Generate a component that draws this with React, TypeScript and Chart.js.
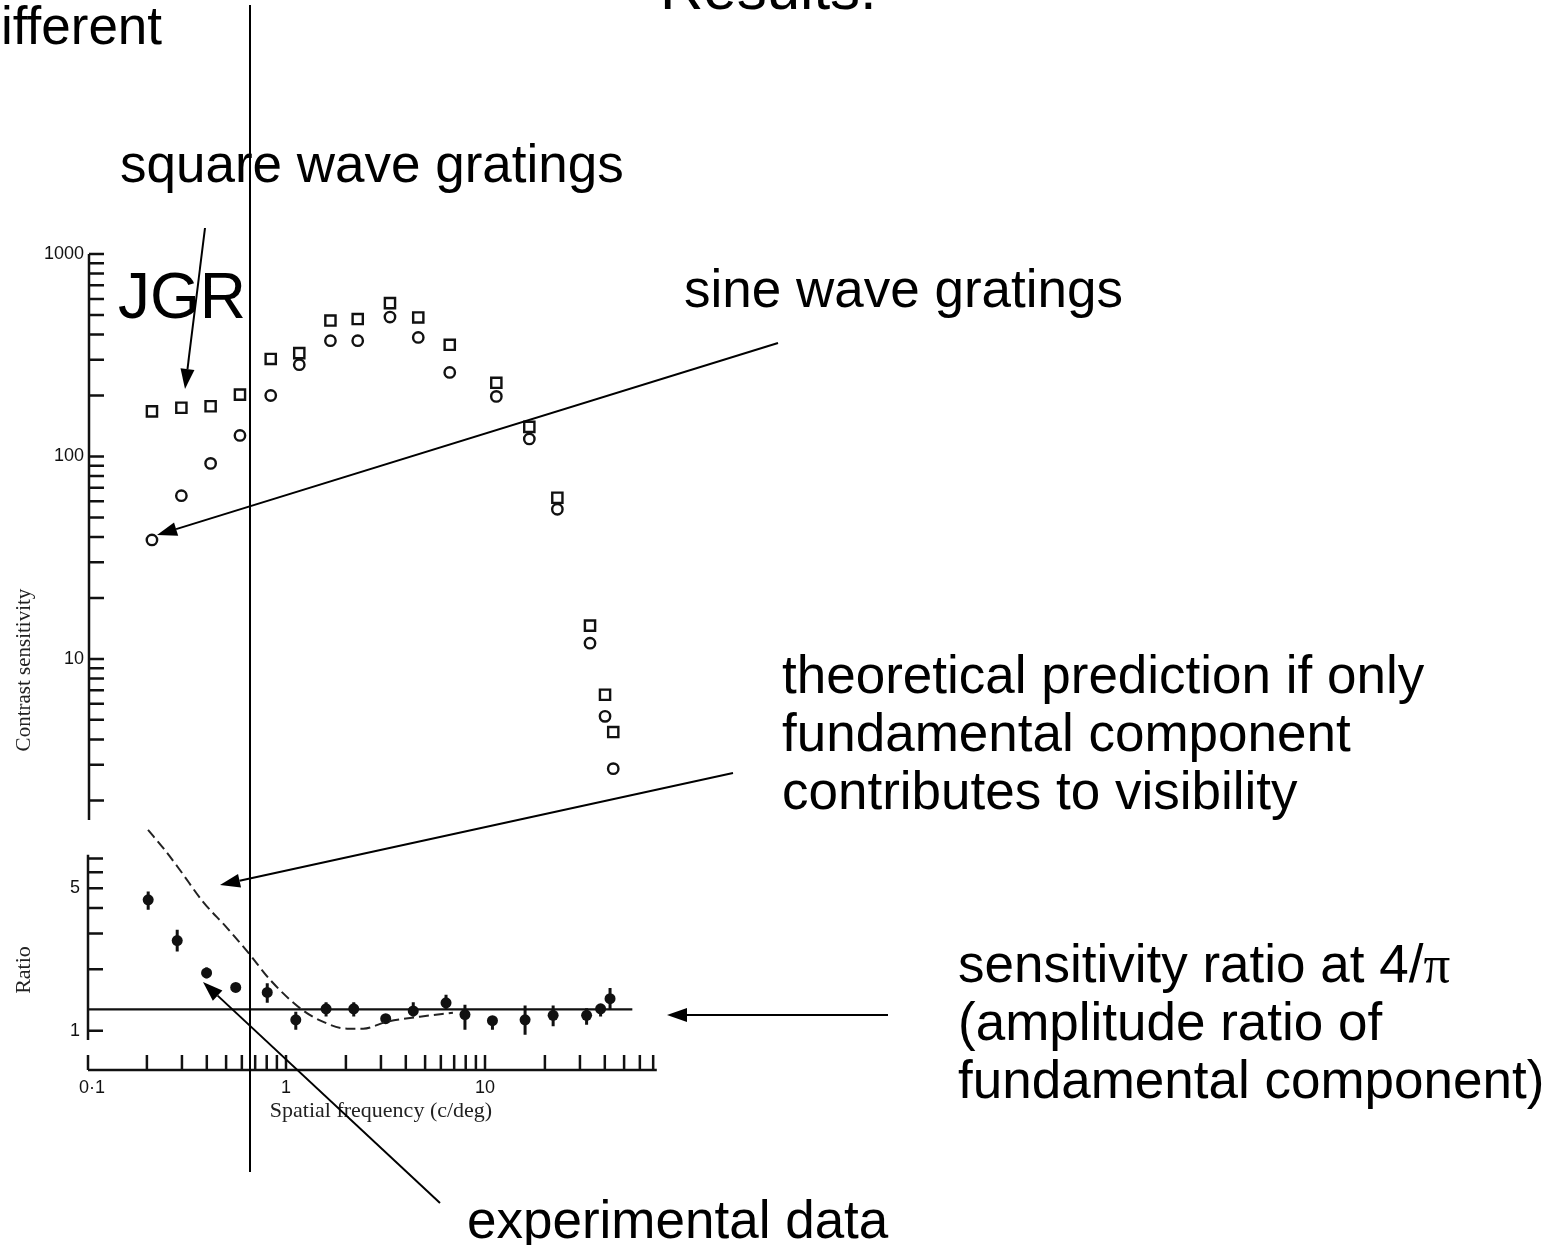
import { useEffect, useRef } from "react";
import { Chart, registerables } from "chart.js";

Chart.register(...registerables);

// ---- data -------------------------------------------------------------
// spatial frequency (c/deg) of the contrast-sensitivity measurements
const gratingFreq = [0.212, 0.298, 0.418, 0.587, 0.838, 1.166, 1.672, 2.293, 3.33, 4.62, 6.65, 11.4, 16.7, 23.1, 33.7, 40.1, 44.1];
// contrast sensitivity for square wave gratings
const squareSens = [167, 174, 177, 202, 303, 324, 469, 477, 572, 486, 356, 231, 140, 62.5, 14.6, 6.65, 4.35];
// contrast sensitivity for sine wave gratings
const sineSens = [38.7, 64.0, 92.4, 127, 200, 284, 373, 373, 488, 387, 260, 198, 122, 54.8, 11.95, 5.2, 2.87];

// measured sensitivity ratio (square / sine) with error bars
const ratioFreq = [0.203, 0.284, 0.399, 0.559, 0.805, 1.12, 1.59, 2.19, 3.17, 4.36, 6.37, 7.93, 10.9, 15.9, 22.0, 32.4, 38.1, 42.5];
const ratioValue = [4.39, 2.77, 1.92, 1.63, 1.54, 1.13, 1.28, 1.28, 1.145, 1.25, 1.37, 1.2, 1.12, 1.13, 1.19, 1.19, 1.28, 1.435];
const ratioLow = [3.92, 2.45, 1.81, 1.56, 1.37, 1.01, 1.175, 1.175, 1.09, 1.175, 1.27, 1.01, 1.01, 0.956, 1.05, 1.07, 1.175, 1.27];
const ratioHigh = [4.82, 3.13, 2.04, 1.71, 1.71, 1.24, 1.38, 1.38, 1.198, 1.38, 1.5, 1.34, 1.175, 1.33, 1.33, 1.29, 1.34, 1.62];

// theoretical ratio if only the fundamental component mattered
const theoryFreq = [0.2026, 0.2437, 0.293, 0.383, 0.505, 0.659, 0.831, 1.2, 1.53, 2.03, 2.44, 3.22, 4.71, 6.9];
const theoryRatio = [9.67, 7.8, 6.15, 4.29, 3.2, 2.36, 1.78, 1.27, 1.107, 1.023, 1.023, 1.107, 1.171, 1.225];

// amplitude ratio of the fundamental component: 4/pi, over the measured range
const fundamentalRatio = 4 / Math.PI;
const fundamentalSpan = [0.1, 55];

// axis tick labels
const sensTickValues = [10, 100, 1000];
const ratioTickValues = [1, 5];
const freqTickValues = [0.1, 1, 10];
const freqTickText = ["0·1", "1", "10"];

// ---- styling ----------------------------------------------------------
const W = 1556;
const H = 1245;
const INK = "#111";
const SANS = '"Liberation Sans", Arial, Helvetica, sans-serif';
const SERIF = '"Liberation Serif", "Times New Roman", serif';

function logTicks(min: number, max: number): number[] {
  const out: number[] = [];
  for (let e = Math.floor(Math.log10(min)); e <= Math.ceil(Math.log10(max)); e++) {
    for (let m = 1; m < 10; m++) {
      const v = m * Math.pow(10, e);
      if (v >= min * 0.999 && v <= max * 1.001) out.push(v);
    }
  }
  return out;
}

function arrow(ctx: CanvasRenderingContext2D, x1: number, y1: number, x2: number, y2: number, head = 20, half = 7) {
  const a = Math.atan2(y2 - y1, x2 - x1);
  const bx = x2 - head * Math.cos(a);
  const by = y2 - head * Math.sin(a);
  ctx.beginPath();
  ctx.moveTo(x1, y1);
  ctx.lineTo(bx, by);
  ctx.stroke();
  ctx.beginPath();
  ctx.moveTo(x2, y2);
  ctx.lineTo(bx + half * Math.sin(a), by - half * Math.cos(a));
  ctx.lineTo(bx - half * Math.sin(a), by + half * Math.cos(a));
  ctx.closePath();
  ctx.fill();
}

// left axis of the contrast-sensitivity panel, ticks pointing inward
const sensAxisPlugin = {
  id: "sensAxis",
  afterDraw(chart: any) {
    const { ctx, scales } = chart;
    const x = scales.x;
    const y = scales.y;
    const ax = x.getPixelForValue(0.1) + 2;
    ctx.save();
    ctx.strokeStyle = INK;
    ctx.lineWidth = 2.5;
    ctx.beginPath();
    ctx.moveTo(ax, y.getPixelForValue(1000));
    ctx.lineTo(ax, y.getPixelForValue(1.6));
    for (const v of logTicks(2, 1000)) {
      const py = y.getPixelForValue(v);
      ctx.moveTo(ax, py);
      ctx.lineTo(ax + 15, py);
    }
    ctx.stroke();
    ctx.fillStyle = INK;
    ctx.font = `18px ${SANS}`;
    ctx.textAlign = "right";
    ctx.textBaseline = "middle";
    for (const v of sensTickValues) ctx.fillText(String(v), ax - 5, y.getPixelForValue(v));
    // axis title
    ctx.save();
    ctx.translate(24, 670);
    ctx.rotate(-Math.PI / 2);
    ctx.font = `21px ${SERIF}`;
    ctx.fillStyle = "#222";
    ctx.textAlign = "center";
    ctx.textBaseline = "middle";
    ctx.fillText("Contrast sensitivity", 0, 0);
    ctx.restore();
    ctx.restore();
  },
};

// ratio panel: error bars, axes and the slide's callouts
const ratioPlugin = {
  id: "ratioPanel",
  afterDatasetsDraw(chart: any) {
    const { ctx, scales } = chart;
    const x = scales.x;
    const y = scales.y;
    ctx.save();
    ctx.strokeStyle = INK;
    ctx.lineWidth = 3;
    ctx.beginPath();
    ratioFreq.forEach((f, i) => {
      const px = x.getPixelForValue(f);
      ctx.moveTo(px, y.getPixelForValue(ratioLow[i]));
      ctx.lineTo(px, y.getPixelForValue(ratioHigh[i]));
    });
    ctx.stroke();
    ctx.restore();
  },
  afterDraw(chart: any) {
    const { ctx, scales, chartArea } = chart;
    const x = scales.x;
    const y = scales.y;
    const ax = x.getPixelForValue(0.1) + 1;
    ctx.save();
    ctx.strokeStyle = INK;
    ctx.fillStyle = INK;
    ctx.lineWidth = 2.5;

    // ratio axis
    ctx.beginPath();
    ctx.moveTo(ax, y.getPixelForValue(0.9));
    ctx.lineTo(ax, y.getPixelForValue(7.3));
    for (const v of logTicks(1, 7)) {
      const py = y.getPixelForValue(v);
      ctx.moveTo(ax, py);
      ctx.lineTo(ax + 15, py);
    }
    ctx.stroke();
    ctx.font = `18px ${SANS}`;
    ctx.textAlign = "right";
    ctx.textBaseline = "middle";
    for (const v of ratioTickValues) ctx.fillText(String(v), ax - 8, y.getPixelForValue(v));

    // frequency axis
    const by = chartArea.bottom + 30;
    ctx.beginPath();
    ctx.moveTo(ax, by);
    ctx.lineTo(x.getPixelForValue(73), by);
    for (const v of logTicks(0.1, 70)) {
      const px = x.getPixelForValue(v) + (v === 0.1 ? 1 : 0);
      ctx.moveTo(px, by);
      ctx.lineTo(px, by - 15);
    }
    ctx.stroke();
    ctx.textAlign = "center";
    ctx.textBaseline = "middle";
    ctx.font = `18px ${SANS}`;
    freqTickValues.forEach((v, i) => {
      ctx.fillText(freqTickText[i], x.getPixelForValue(v) + (v === 0.1 ? 5 : 0), by + 18);
    });
    ctx.font = `22px ${SERIF}`;
    ctx.fillStyle = "#222";
    ctx.fillText("Spatial frequency (c/deg)", 381, by + 41);
    ctx.save();
    ctx.translate(24, 970);
    ctx.rotate(-Math.PI / 2);
    ctx.fillText("Ratio", 0, 0);
    ctx.restore();

    // slide callouts
    ctx.fillStyle = "#000";
    ctx.strokeStyle = "#000";
    ctx.textAlign = "left";
    ctx.textBaseline = "alphabetic";
    ctx.font = `53px ${SANS}`;
    ctx.fillText("ifferent", 1, 44);
    ctx.fillText("square wave gratings", 120, 182);
    ctx.fillText("sine wave gratings", 684, 307);
    ctx.fillText("theoretical prediction if only", 782, 693);
    ctx.fillText("fundamental component", 782, 751);
    ctx.fillText("contributes to visibility", 782, 809);
    const lead = "sensitivity ratio at 4/";
    ctx.fillText(lead, 958, 982);
    const leadW = ctx.measureText(lead).width;
    ctx.font = `53px ${SERIF}`;
    ctx.fillText("π", 958 + leadW, 982);
    ctx.font = `53px ${SANS}`;
    ctx.fillText("(amplitude ratio of", 958, 1040);
    ctx.fillText("fundamental component)", 958, 1098);
    ctx.fillText("experimental data", 467, 1238);
    ctx.font = `60px ${SANS}`;
    ctx.fillText("Results.", 660, 9);
    ctx.font = `64px ${SANS}`;
    ctx.fillText("JGR", 118, 318);

    ctx.lineWidth = 2;
    arrow(ctx, 205, 228, 185, 389);
    arrow(ctx, 778, 343, 157, 535);
    arrow(ctx, 733, 773, 220, 885);
    arrow(ctx, 440, 1203, 203, 982);
    arrow(ctx, 888, 1015, 667, 1015);

    ctx.beginPath();
    ctx.moveTo(250, 5);
    ctx.lineTo(250, 1172);
    ctx.stroke();
    ctx.restore();
  },
};

export default function App() {
  const sensRef = useRef<HTMLCanvasElement>(null);
  const ratioRef = useRef<HTMLCanvasElement>(null);

  useEffect(() => {
    document.body.style.margin = "0";
    const common = {
      responsive: false,
      animation: false as const,
      devicePixelRatio: 1,
      events: [] as any[],
      plugins: { legend: { display: false }, tooltip: { enabled: false }, title: { display: false } },
    };

    const sensChart = new Chart(sensRef.current!, {
      type: "scatter",
      data: {
        datasets: [
          {
            label: "Square wave gratings",
            data: gratingFreq.map((f, i) => ({ x: f, y: squareSens[i] })),
            pointStyle: "rect",
            pointRadius: 7.2,
            pointBorderWidth: 2.4,
            pointBorderColor: INK,
            pointBackgroundColor: "rgba(0,0,0,0)",
          },
          {
            label: "Sine wave gratings",
            data: gratingFreq.map((f, i) => ({ x: f, y: sineSens[i] })),
            pointStyle: "circle",
            pointRadius: 5.2,
            pointBorderWidth: 2.4,
            pointBorderColor: INK,
            pointBackgroundColor: "rgba(0,0,0,0)",
          },
        ],
      },
      options: {
        ...common,
        layout: { autoPadding: false, padding: { left: 87, right: W - 684, top: 254, bottom: H - 820 } },
        scales: {
          x: { type: "logarithmic", min: 0.1, max: 100, display: false },
          y: { type: "logarithmic", min: 1.6, max: 1000, display: false },
        },
      } as any,
      plugins: [sensAxisPlugin],
    });

    const ratioChart = new Chart(ratioRef.current!, {
      type: "scatter",
      data: {
        datasets: [
          {
            label: "Fundamental amplitude ratio (4/π)",
            data: fundamentalSpan.map((f) => ({ x: f, y: fundamentalRatio })),
            showLine: true,
            borderColor: INK,
            borderWidth: 2.2,
            pointRadius: 0,
          },
          {
            label: "Theoretical prediction",
            data: theoryFreq.map((f, i) => ({ x: f, y: theoryRatio[i] })),
            showLine: true,
            borderColor: "#222",
            borderWidth: 2,
            borderDash: [10, 5],
            cubicInterpolationMode: "monotone",
            pointRadius: 0,
          },
          {
            label: "Experimental data",
            data: ratioFreq.map((f, i) => ({ x: f, y: ratioValue[i] })),
            pointStyle: "circle",
            pointRadius: 5.5,
            pointBorderWidth: 0,
            pointBackgroundColor: INK,
          },
        ],
      },
      options: {
        ...common,
        layout: { autoPadding: false, padding: { left: 87, right: W - 684, top: 827, bottom: H - 1040 } },
        scales: {
          x: { type: "logarithmic", min: 0.1, max: 100, display: false },
          y: { type: "logarithmic", min: 0.9, max: 10, display: false },
        },
      } as any,
      plugins: [ratioPlugin],
    });

    return () => {
      sensChart.destroy();
      ratioChart.destroy();
    };
  }, []);

  return (
    <div style={{ position: "relative", width: W, height: H, overflow: "hidden", background: "#fff" }}>
      <canvas ref={sensRef} width={W} height={H} style={{ position: "absolute", left: 0, top: 0 }} />
      <canvas ref={ratioRef} width={W} height={H} style={{ position: "absolute", left: 0, top: 0 }} />
    </div>
  );
}
